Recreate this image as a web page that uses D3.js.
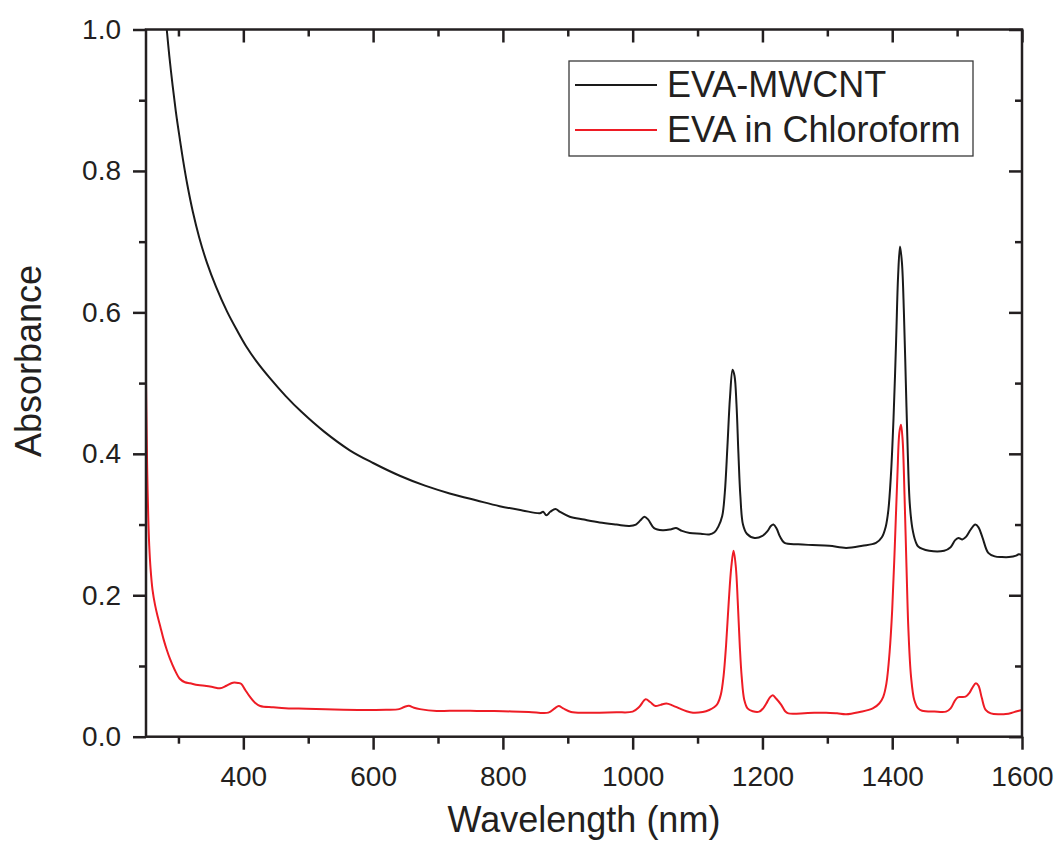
<!DOCTYPE html>
<html>
<head>
<meta charset="utf-8">
<script src="https://cdn.jsdelivr.net/npm/d3@7"></script>
<style>
  html, body { margin: 0; padding: 0; background: #fff; }
  svg { display: block; font-family: Arial, "Liberation Sans", Helvetica, sans-serif; }
  .axis path, .axis line { stroke: #231f20; }
  .axis text { fill: #231f20; }
</style>
</head>
<body>
<svg id="chart" width="1059" height="847"></svg>
<script>
// Absorbance spectra: [wavelength (nm), absorbance]
const evaMwcnt = [
  [282,1.0],[286,0.962],[291,0.921],[296,0.884],[301,0.852],[307,0.816],[314,0.779],[322,0.743],
  [332,0.706],[344,0.670],[358,0.636],[375,0.601],[390,0.575],[405,0.551],[420,0.531],[440,0.508],
  [465,0.482],[490,0.459],[525,0.431],[564,0.405],[600,0.387],[641,0.369],[680,0.355],[718,0.344],
  [760,0.334],[795,0.326],[830,0.320],[857,0.316],[862,0.318],[867,0.313],[873,0.318],[881,0.322],
  [888,0.318],[903,0.311],[925,0.307],[949,0.303],[975,0.300],[995,0.298],[1005,0.300],[1012,0.306],
  [1018,0.311],[1024,0.307],[1033,0.295],[1046,0.292],[1058,0.293],[1067,0.295],[1076,0.291],
  [1088,0.288],[1105,0.287],[1118,0.286],[1126,0.289],[1132,0.297],[1138,0.312],[1142,0.345],
  [1146,0.41],[1150,0.48],[1154,0.519],[1157,0.51],[1160,0.47],[1163,0.40],[1166,0.34],[1170,0.30],
  [1176,0.287],[1188,0.281],[1200,0.284],[1208,0.291],[1213,0.298],[1217,0.300],[1222,0.294],
  [1227,0.283],[1234,0.274],[1255,0.272],[1277,0.271],[1303,0.270],[1329,0.267],[1354,0.270],
  [1375,0.274],[1384,0.282],[1390,0.297],[1394,0.32],[1398,0.37],[1402,0.45],[1406,0.56],[1409,0.65],
  [1412,0.693],[1415,0.67],[1418,0.6],[1421,0.5],[1424,0.40],[1427,0.33],[1431,0.295],[1436,0.276],
  [1440,0.269],[1457,0.263],[1480,0.263],[1490,0.268],[1497,0.278],[1502,0.281],[1508,0.279],
  [1514,0.283],[1521,0.293],[1528,0.300],[1533,0.296],[1539,0.282],[1548,0.260],[1558,0.255],
  [1569,0.254],[1580,0.254],[1591,0.256],[1595,0.258],[1600,0.257]
];

const evaChloroform = [
  [250,0.50],[251,0.43],[252,0.37],[253.5,0.31],[255,0.27],[257,0.238],[260,0.208],[264,0.186],
  [268,0.170],[272,0.156],[277,0.138],[282,0.123],[287,0.110],[294,0.095],[302,0.082],[310,0.077],
  [318,0.0755],[330,0.073],[343,0.0717],[354,0.070],[364,0.0684],[374,0.072],[384,0.0764],
  [392,0.076],[397,0.0745],[403,0.066],[410,0.0566],[418,0.048],[426,0.0434],[446,0.0415],
  [470,0.040],[497,0.0396],[540,0.0385],[585,0.0378],[620,0.038],[640,0.039],[648,0.042],
  [655,0.0438],[663,0.041],[672,0.039],[698,0.0363],[718,0.0368],[760,0.0365],[800,0.036],
  [840,0.035],[870,0.034],[880,0.040],[886,0.0435],[893,0.040],[905,0.035],[930,0.034],[949,0.034],
  [975,0.0345],[1000,0.0354],[1010,0.042],[1020,0.0529],[1027,0.049],[1035,0.0434],[1043,0.045],
  [1052,0.047],[1062,0.044],[1072,0.040],[1083,0.036],[1093,0.034],[1108,0.035],[1118,0.0378],
  [1126,0.042],[1131,0.047],[1136,0.06],[1140,0.085],[1144,0.13],[1148,0.19],[1152,0.24],
  [1155.5,0.263],[1159,0.24],[1162,0.19],[1165,0.13],[1168,0.085],[1172,0.052],[1177,0.04],
  [1185,0.036],[1195,0.0354],[1201,0.04],[1206,0.047],[1211,0.055],[1216,0.0585],[1221,0.054],
  [1229,0.045],[1235,0.036],[1240,0.033],[1270,0.0335],[1298,0.034],[1315,0.033],[1329,0.0317],
  [1350,0.035],[1370,0.040],[1380,0.047],[1386,0.056],[1391,0.075],[1396,0.12],[1400,0.18],
  [1404,0.27],[1408,0.37],[1411,0.43],[1413.5,0.441],[1416,0.42],[1419,0.34],[1422,0.24],
  [1425,0.15],[1429,0.085],[1434,0.052],[1440,0.04],[1446,0.0368],[1465,0.0355],[1483,0.0354],
  [1490,0.04],[1496,0.05],[1501,0.0557],[1507,0.056],[1513,0.0566],[1519,0.062],[1524,0.070],
  [1529,0.0755],[1533,0.072],[1538,0.055],[1544,0.0378],[1552,0.033],[1565,0.0317],[1575,0.032],
  [1585,0.034],[1592,0.036],[1600,0.0378]
];

const seriesNames = ["EVA-MWCNT", "EVA in Chloroform"];
const seriesColors = ["#1a1a1a", "#ee1c25"];

const xMajorTicks = [400, 600, 800, 1000, 1200, 1400, 1600];
const xMinorTicks = [300, 500, 700, 900, 1100, 1300, 1500];
const yMajorTicks = [0.0, 0.2, 0.4, 0.6, 0.8, 1.0];
const yMinorTicks = [0.1, 0.3, 0.5, 0.7, 0.9];

const xDomain = [250, 1600];
const yDomain = [0, 1.0];

// Layout
const plot = { left: 146, right: 1022, top: 29.5, bottom: 736.7 };
const ink = "#231f20";

const svg = d3.select("#chart");
const x = d3.scaleLinear().domain(xDomain).range([plot.left, plot.right]);
const y = d3.scaleLinear().domain(yDomain).range([plot.bottom, plot.top]);

const MAJ = 13, MIN = 7;

svg.append("defs").append("clipPath").attr("id", "plotClip")
  .append("rect")
  .attr("x", plot.left).attr("y", plot.top)
  .attr("width", plot.right - plot.left).attr("height", plot.bottom - plot.top);

// Spectra
const line = d3.line().x(d => x(d[0])).y(d => y(d[1])).curve(d3.curveCatmullRom.alpha(0.5));
const gLines = svg.append("g").attr("clip-path", "url(#plotClip)");
[evaMwcnt, evaChloroform].forEach((data, i) => {
  gLines.append("path")
    .datum(data)
    .attr("fill", "none")
    .attr("stroke", seriesColors[i])
    .attr("stroke-width", 2)
    .attr("stroke-linejoin", "round")
    .attr("d", line);
});

function styleAxis(g) {
  g.attr("class", "axis");
  g.select(".domain").remove();
  g.selectAll("line").attr("stroke", ink).attr("stroke-width", 2.5);
}

// Bottom axis (outward ticks)
svg.append("g").attr("transform", `translate(0,${plot.bottom})`)
  .call(d3.axisBottom(x).tickValues(xMajorTicks).tickSize(MAJ).tickPadding(16).tickFormat(d3.format("d")))
  .call(styleAxis)
  .call(g => g.selectAll("text").attr("font-size", 28).attr("font-family", "Arial, 'Liberation Sans', sans-serif"));
svg.append("g").attr("transform", `translate(0,${plot.bottom})`)
  .call(d3.axisBottom(x).tickValues(xMinorTicks).tickSize(MIN).tickFormat(""))
  .call(styleAxis);

// Top axis (inward ticks)
svg.append("g").attr("transform", `translate(0,${plot.top})`)
  .call(d3.axisTop(x).tickValues(xMajorTicks).tickSize(-MAJ).tickFormat(""))
  .call(styleAxis);
svg.append("g").attr("transform", `translate(0,${plot.top})`)
  .call(d3.axisTop(x).tickValues(xMinorTicks).tickSize(-MIN).tickFormat(""))
  .call(styleAxis);

// Left axis (outward ticks)
svg.append("g").attr("transform", `translate(${plot.left},0)`)
  .call(d3.axisLeft(y).tickValues(yMajorTicks).tickSize(MAJ).tickPadding(12).tickFormat(d3.format(".1f")))
  .call(styleAxis)
  .call(g => g.selectAll("text").attr("font-size", 28).attr("font-family", "Arial, 'Liberation Sans', sans-serif"));
svg.append("g").attr("transform", `translate(${plot.left},0)`)
  .call(d3.axisLeft(y).tickValues(yMinorTicks).tickSize(MIN).tickFormat(""))
  .call(styleAxis);

// Right axis (inward ticks)
svg.append("g").attr("transform", `translate(${plot.right},0)`)
  .call(d3.axisRight(y).tickValues(yMajorTicks).tickSize(-MAJ).tickFormat(""))
  .call(styleAxis);
svg.append("g").attr("transform", `translate(${plot.right},0)`)
  .call(d3.axisRight(y).tickValues(yMinorTicks).tickSize(-MIN).tickFormat(""))
  .call(styleAxis);

// Frame
svg.append("rect")
  .attr("x", plot.left).attr("y", plot.top)
  .attr("width", plot.right - plot.left).attr("height", plot.bottom - plot.top)
  .attr("fill", "none").attr("stroke", ink).attr("stroke-width", 2.5);

// Axis titles
svg.append("text")
  .attr("x", (plot.left + plot.right) / 2).attr("y", 832)
  .attr("text-anchor", "middle").attr("font-size", 36).attr("fill", ink)
  .text("Wavelength (nm)");
svg.append("text")
  .attr("transform", "translate(41,361) rotate(-90)")
  .attr("text-anchor", "middle").attr("font-size", 36).attr("fill", ink)
  .text("Absorbance");

// Legend
const legend = svg.append("g");
legend.append("rect")
  .attr("x", 569).attr("y", 61).attr("width", 404).attr("height", 95)
  .attr("fill", "#fff").attr("stroke", "#3a3a3a").attr("stroke-width", 1.3);
const legendRows = [85, 130];
seriesNames.forEach((name, i) => {
  legend.append("line")
    .attr("x1", 575).attr("x2", 657)
    .attr("y1", legendRows[i]).attr("y2", legendRows[i])
    .attr("stroke", seriesColors[i]).attr("stroke-width", 2);
  legend.append("text")
    .attr("x", 667).attr("y", legendRows[i] + 12)
    .attr("font-size", 36).attr("fill", ink)
    .text(name);
});
</script>
</body>
</html>
